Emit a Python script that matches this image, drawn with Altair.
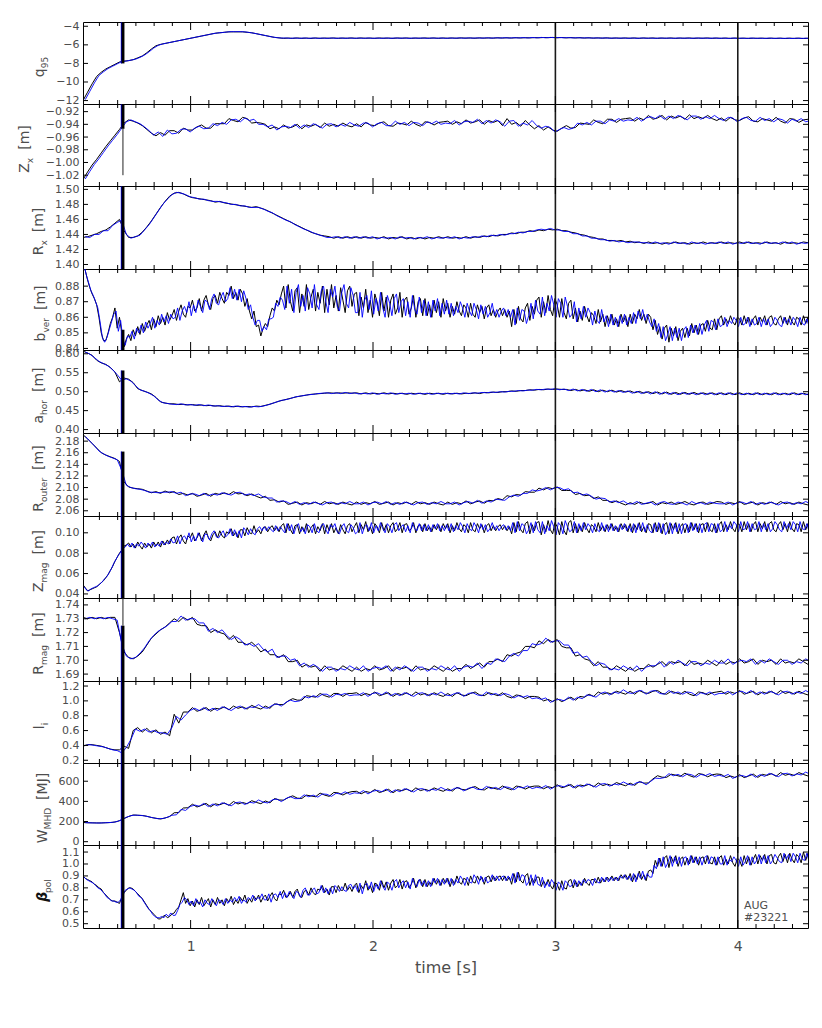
import altair as alt
import pandas as pd

# ---------------- time base ----------------
T0 = 0.41
DT_STD, DT_FINE = 0.025, 0.0125
X_DOMAIN = [0.41, 4.385]
EVENT_TIMES = [3.0, 4.0]
X_MAJOR = [1, 2, 3, 4]
X_MINOR = [round(0.5 + 0.1 * i, 1) for i in range(39) if abs((0.5 + 0.1 * i) - round(0.5 + 0.1 * i)) > 1e-6]
SPIKE_T_BLACK = 0.629
SPIKE_T_BLUE = 0.6205

# ---------------- series (black = one equilibrium, blue = other) ----------------
Q95_K = [-12.0,-11.1,-10.2,-9.4,-8.95,-8.6,-8.35,-8.1,-7.85,-7.75,-7.7,-7.6,-7.4,-7.2,-6.85,-6.45,-6.1,-5.95,-5.85,-5.75,
         -5.65,-5.55,-5.45,-5.35,-5.25,-5.15,-5.05,-4.95,-4.85,-4.75,-4.7,-4.65,-4.6,-4.6,-4.6,-4.6,-4.65,-4.7,-4.8,-4.9,
         -5.0,-5.1,-5.2,-5.25,-5.3,-5.27,-5.3,-5.26,-5.3,-5.27,-5.31,-5.26,-5.3,-5.27,-5.29,-5.26,-5.3,-5.27,-5.29,-5.26,
         -5.3,-5.26,-5.29,-5.27,-5.3,-5.26,-5.29,-5.27,-5.3,-5.26,-5.29,-5.26,-5.3,-5.27,-5.29,-5.26,-5.29,-5.26,-5.3,-5.26,
         -5.29,-5.26,-5.29,-5.25,-5.28,-5.26,-5.29,-5.25,-5.28,-5.25,-5.28,-5.24,-5.27,-5.24,-5.27,-5.23,-5.26,-5.23,-5.25,-5.22,
         -5.24,-5.21,-5.23,-5.2,-5.24,-5.21,-5.25,-5.22,-5.26,-5.23,-5.27,-5.24,-5.28,-5.25,-5.28,-5.25,-5.29,-5.26,-5.29,-5.26,
         -5.29,-5.26,-5.3,-5.26,-5.29,-5.26,-5.3,-5.27,-5.29,-5.26,-5.3,-5.27,-5.29,-5.26,-5.3,-5.27,-5.29,-5.26,-5.3,-5.27,
         -5.3,-5.27,-5.31,-5.27,-5.3,-5.28,-5.31,-5.28,-5.3,-5.28,-5.31,-5.28,-5.31,-5.28,-5.32,-5.28,-5.31,-5.28,-5.32,-5.29]
Q95_B = [-11.9,-11.0,-10.1,-9.3,-8.9,-8.55,-8.3,-8.05,-7.8,-7.75,-7.65,-7.55,-7.35,-7.1,-6.75,-6.35,-6.05,-5.9,-5.8,-5.7,
         -5.6,-5.5,-5.4,-5.3,-5.2,-5.1,-5.0,-4.9,-4.8,-4.72,-4.68,-4.62,-4.58,-4.58,-4.58,-4.6,-4.67,-4.75,-4.85,-4.95,
         -5.05,-5.15,-5.22,-5.27,-5.26,-5.3,-5.26,-5.3,-5.26,-5.3,-5.26,-5.3,-5.27,-5.3,-5.26,-5.3,-5.26,-5.3,-5.26,-5.3,
         -5.26,-5.3,-5.26,-5.3,-5.27,-5.3,-5.26,-5.3,-5.26,-5.29,-5.26,-5.3,-5.26,-5.29,-5.26,-5.3,-5.26,-5.29,-5.26,-5.3,
         -5.26,-5.29,-5.25,-5.29,-5.25,-5.28,-5.25,-5.28,-5.24,-5.28,-5.24,-5.27,-5.23,-5.27,-5.23,-5.26,-5.22,-5.26,-5.21,-5.25,
         -5.2,-5.24,-5.2,-5.23,-5.21,-5.24,-5.22,-5.25,-5.23,-5.26,-5.24,-5.27,-5.25,-5.28,-5.25,-5.29,-5.26,-5.29,-5.26,-5.3,
         -5.26,-5.3,-5.26,-5.29,-5.27,-5.3,-5.26,-5.29,-5.27,-5.3,-5.26,-5.29,-5.27,-5.3,-5.26,-5.29,-5.27,-5.3,-5.26,-5.3,
         -5.27,-5.31,-5.27,-5.3,-5.28,-5.31,-5.27,-5.3,-5.28,-5.31,-5.27,-5.31,-5.28,-5.31,-5.28,-5.32,-5.28,-5.31,-5.28,-5.32]

# Z_x in mm
ZX_K = [-1027,-1015,-1004,-995,-985,-975,-966,-957,-948,-938,-933,-935,-938,-942,-948,-954,-958,-953,-957,-950,
        -950,-954,-946,-949,-949,-944,-941,-946,-946,-939,-939,-939,-931,-934,-936,-929,-931,-938,-937,-938,
        -940,-947,-944,-947,-941,-946,-944,-940,-947,-941,-943,-940,-945,-938,-943,-940,-943,-938,-942,-944,
        -939,-944,-937,-941,-942,-938,-936,-942,-943,-938,-939,-941,-935,-940,-943,-936,-937,-941,-937,-936,
        -935,-940,-936,-939,-933,-938,-936,-933,-940,-934,-937,-934,-942,-931,-940,-937,-943,-934,-941,-947,
        -942,-949,-944,-949,-951,-946,-942,-946,-945,-938,-939,-940,-933,-937,-939,-932,-932,-937,-932,-931,
        -930,-935,-930,-933,-926,-932,-930,-926,-933,-927,-930,-927,-932,-925,-931,-928,-931,-926,-931,-934,
        -930,-935,-929,-933,-934,-930,-928,-935,-936,-931,-933,-935,-929,-935,-938,-931,-932,-937,-933,-932]
ZX_B = [-1026,-1014,-1003,-994,-984,-974,-965,-956,-946,-936,-933,-936,-939,-944,-950,-957,-952,-959,-949,-955,
        -954,-948,-947,-952,-946,-943,-947,-946,-939,-942,-937,-940,-933,-932,-936,-930,-934,-932,-940,-940,
        -944,-941,-949,-944,-943,-945,-940,-946,-941,-945,-939,-942,-946,-940,-939,-944,-940,-943,-937,-941,
        -943,-938,-938,-944,-939,-937,-942,-942,-935,-940,-937,-942,-937,-938,-942,-936,-939,-935,-940,-938,
        -939,-934,-941,-936,-935,-937,-932,-939,-934,-938,-933,-936,-943,-935,-934,-943,-938,-941,-934,-942,
        -946,-943,-945,-952,-948,-945,-948,-946,-938,-941,-937,-941,-935,-935,-939,-933,-935,-931,-935,-933,
        -934,-929,-935,-930,-928,-931,-926,-932,-927,-931,-926,-929,-933,-927,-927,-932,-928,-931,-926,-931,
        -934,-929,-930,-936,-931,-929,-934,-935,-929,-934,-931,-936,-931,-933,-938,-932,-935,-931,-936,-934]

# R_x in mm
RX_K = [1436,1437,1439,1441,1444,1446,1450,1455,1460,1445,1436,1436,1438,1443,1450,1458,1467,1476,1484,1491,
        1495,1496,1494,1491,1489,1488,1487,1486,1485,1483,1484,1482,1481,1480,1479,1478,1477,1476,1477,1475,
        1473,1470,1467,1464,1461,1458,1455,1452,1449,1446,1443,1441,1439,1438,1437,1435,1437,1435,1437,1435,
        1437,1435,1437,1435,1436,1435,1437,1434,1436,1435,1437,1434,1436,1434,1436,1434,1436,1435,1437,1435,
        1437,1435,1436,1435,1437,1435,1437,1436,1438,1437,1439,1438,1440,1440,1442,1441,1443,1443,1445,1444,
        1446,1445,1447,1446,1447,1445,1445,1443,1442,1440,1439,1437,1436,1434,1434,1432,1432,1431,1432,1430,
        1431,1429,1430,1428,1430,1428,1429,1427,1429,1428,1430,1428,1429,1427,1429,1428,1430,1428,1429,1428,
        1430,1428,1429,1428,1430,1428,1430,1428,1429,1428,1430,1428,1429,1427,1430,1428,1429,1428,1430,1429]
RX_B = [1437,1436,1440,1440,1445,1445,1452,1456,1459,1440,1435,1437,1439,1446,1453,1462,1471,1480,1487,1493,
        1496,1495,1493,1490,1489,1487,1487,1485,1484,1484,1483,1482,1480,1480,1478,1478,1476,1476,1476,1474,
        1471,1469,1465,1462,1459,1457,1453,1450,1447,1445,1442,1440,1438,1436,1436,1437,1435,1437,1435,1437,
        1435,1437,1435,1437,1434,1436,1435,1436,1434,1437,1435,1436,1434,1436,1435,1437,1434,1436,1435,1436,
        1435,1437,1434,1436,1435,1437,1436,1438,1437,1439,1438,1440,1439,1441,1441,1443,1442,1444,1444,1446,
        1447,1446,1448,1446,1446,1444,1444,1441,1441,1438,1438,1435,1435,1433,1433,1431,1432,1430,1431,1429,
        1430,1430,1429,1429,1428,1430,1428,1429,1427,1430,1428,1429,1427,1430,1428,1429,1427,1429,1428,1430,
        1428,1430,1427,1429,1428,1430,1428,1429,1427,1430,1428,1429,1428,1430,1428,1430,1427,1429,1428,1430]

# b_ver in mm (fine sampling, 0.0125 s)
BV_K = [895,890,884,879,875,872,868,860,850,845,845,850,856,860,866,853,860,850,841,846,849,845,852,848,854,849,856,851,855,858,852,859,854,861,856,860,855,863,858,861,
        865,858,864,868,862,860,867,866,871,864,866,872,864,871,874,868,865,872,874,869,876,872,869,876,874,880,872,876,871,878,875,867,872,864,859,864,854,855,848,853,
        856,854,861,866,864,871,868,875,880,866,881,870,864,877,879,863,875,867,881,865,873,878,864,876,869,880,863,878,868,881,866,874,864,879,871,863,877,880,867,875,
        876,861,873,866,878,863,871,860,875,870,861,876,864,873,860,871,875,862,866,876,860,871,873,862,866,874,860,870,872,861,872,861,868,860,871,863,870,860,872,864,
        869,860,867,862,870,864,861,868,866,860,869,862,860,868,863,867,859,866,868,861,865,860,864,866,861,865,860,864,854,865,856,867,859,857,866,869,858,867,862,871,
        873,860,870,863,874,865,861,872,868,860,872,863,859,869,871,859,866,857,864,858,867,861,857,863,861,856,865,857,862,854,861,856,862,855,859,854,862,857,861,854,
        862,856,862,859,865,858,862,856,862,860,852,858,849,854,846,853,855,844,853,848,854,845,851,853,847,853,848,856,850,855,849,855,856,851,858,853,852,859,852,859,
        861,855,859,856,861,857,855,860,859,855,861,856,860,855,859,861,855,860,857,861,855,860,861,856,855,859,861,856,860,855,861,857,855,860,859,855,861,856,860,855]
BV_B = [893,887,882,877,874,870,866,857,847,844,847,852,857,862,864,851,858,846,842,848,847,851,846,853,850,855,850,857,853,856,860,853,858,855,862,857,861,856,862,859,
        860,866,858,864,867,863,870,861,868,863,871,867,863,871,870,865,872,875,869,868,873,876,870,872,879,872,878,871,878,870,877,872,865,868,860,855,858,858,851,854,
        852,859,859,860,869,867,873,871,865,880,869,878,863,876,881,867,874,864,879,875,866,881,868,865,877,880,870,863,878,873,880,867,864,876,881,869,866,879,874,863,
        863,876,860,871,874,865,877,862,872,864,876,866,860,874,869,861,872,875,863,870,872,861,870,860,874,865,862,873,863,871,861,870,860,871,864,872,861,869,862,871,
        862,869,861,867,863,870,866,860,869,864,861,869,865,859,868,862,867,860,863,869,861,865,860,864,866,861,865,860,865,855,866,858,865,864,856,861,869,859,871,864,
        862,873,861,869,864,874,868,860,872,869,860,873,867,860,862,870,857,866,859,867,860,866,863,855,864,858,856,865,857,861,854,862,855,860,854,861,856,862,855,860,
        856,863,856,864,859,865,858,862,857,854,859,851,856,847,854,845,849,854,845,853,847,853,845,852,854,847,855,850,855,849,856,849,855,858,851,858,857,852,859,854,
        855,860,854,858,856,860,858,854,860,855,856,860,854,859,855,856,860,854,859,855,859,854,856,860,858,855,854,860,856,859,855,860,858,854,860,856,855,859,854,860]

# a_hor in mm
AH_K = [607,602,596,583,576,572,564,552,526,536,533,524,508,503,499,494,485,473,470,468,
        468,466,467,465,466,464,465,463,464,462,463,461,462,460,462,460,461,460,462,461,
        464,467,471,475,478,481,484,487,489,491,493,494,495,496,497,496,497,496,497,496,
        497,494,497,494,496,494,497,494,496,494,496,493,496,494,496,493,496,494,496,493,
        496,494,496,494,496,495,497,495,498,497,499,498,500,500,502,501,503,503,505,504,
        506,505,507,506,507,506,506,503,506,502,505,501,505,500,504,500,504,499,503,499,
        502,497,501,496,500,495,499,494,499,493,498,493,498,493,498,493,497,493,497,492,
        497,492,497,492,497,492,496,492,497,492,496,492,497,492,496,492,497,492,496,492]
AH_B = [605,599,590,580,574,568,558,545,530,534,528,516,505,501,496,489,478,471,469,467,
        466,468,465,466,464,466,463,465,462,463,461,462,460,462,460,461,459,461,460,462,
        465,469,473,477,479,482,486,488,490,492,493,495,496,497,495,497,495,498,495,497,
        494,496,494,497,493,496,494,497,493,496,494,496,493,496,494,496,493,496,494,496,
        494,496,494,497,495,497,496,498,497,499,498,500,499,501,501,503,502,504,504,506,
        505,507,506,508,505,507,503,507,502,506,501,506,500,505,499,504,499,503,498,502,
        496,501,495,500,494,500,493,499,493,498,492,498,493,497,492,497,492,497,492,497,
        492,497,492,497,492,496,492,497,492,496,492,497,492,496,492,497,492,496,492,496]

# R_outer in mm
RO_K = [2191,2184,2176,2168,2160,2156,2153,2150,2145,2110,2101,2099,2098,2097,2094,2091,2093,2090,2094,2091,
        2093,2088,2090,2087,2090,2085,2087,2090,2085,2090,2088,2091,2088,2093,2089,2090,2086,2089,2085,2082,
        2085,2078,2079,2075,2077,2071,2073,2075,2070,2074,2072,2075,2071,2076,2072,2074,2071,2075,2072,2070,
        2075,2071,2074,2072,2076,2071,2073,2075,2070,2074,2072,2075,2071,2076,2072,2074,2071,2075,2072,2070,
        2075,2071,2074,2072,2077,2072,2075,2077,2073,2078,2077,2081,2079,2086,2084,2088,2087,2093,2092,2092,
        2099,2096,2100,2098,2101,2095,2095,2095,2088,2090,2086,2087,2081,2084,2078,2078,2074,2077,2073,2070,
        2074,2071,2075,2072,2073,2076,2070,2074,2072,2075,2071,2073,2076,2072,2070,2074,2075,2071,2073,2076,
        2075,2071,2074,2072,2076,2071,2073,2075,2070,2074,2072,2075,2071,2076,2072,2074,2071,2075,2072,2070]
RO_B = [2188,2180,2172,2163,2158,2154,2151,2148,2130,2104,2100,2098,2097,2095,2092,2092,2091,2092,2092,2093,
        2090,2092,2086,2089,2089,2086,2090,2086,2089,2087,2091,2089,2087,2091,2092,2087,2089,2086,2089,2084,
        2082,2082,2075,2077,2076,2072,2076,2071,2074,2071,2075,2073,2070,2074,2075,2071,2074,2072,2076,2072,
        2072,2075,2070,2074,2075,2072,2076,2071,2074,2071,2075,2073,2070,2074,2075,2071,2074,2072,2076,2072,
        2072,2075,2070,2074,2076,2073,2078,2073,2077,2075,2080,2079,2078,2084,2087,2085,2090,2090,2096,2094,
        2096,2100,2096,2100,2100,2096,2098,2091,2092,2087,2089,2085,2080,2082,2081,2075,2077,2074,2077,2072,
        2072,2076,2071,2073,2075,2070,2074,2076,2072,2071,2075,2073,2070,2076,2072,2074,2071,2075,2073,2072,
        2072,2075,2070,2074,2075,2072,2076,2071,2074,2071,2075,2073,2070,2074,2075,2071,2074,2072,2076,2072]

# Z_mag in mm (fine sampling, 0.0125 s)
ZM_K = [49,46,43,44,45,46,47,49,51,53,56,59,63,67,72,76,80,83,87,88,90,86,89,85,91,87,84,90,86,89,85,91,87,91,86,92,88,93,89,95,
        96,89,95,98,92,89,97,95,100,92,95,100,92,98,102,95,92,98,101,95,102,97,95,101,99,104,97,101,95,103,103,97,105,100,99,107,100,103,99,105,
        106,101,105,107,102,106,101,107,109,100,109,103,99,107,108,99,106,101,109,100,105,108,99,106,102,109,99,108,102,109,100,105,99,108,103,99,107,109,101,106,
        110,100,108,103,111,101,106,99,109,106,100,110,102,108,100,107,110,101,104,110,100,108,109,102,104,110,100,107,108,101,109,102,106,101,108,103,108,101,109,104,
        109,100,107,102,110,104,101,108,106,100,110,103,101,109,104,108,100,107,109,102,107,102,106,108,103,107,102,106,99,110,101,111,103,100,109,111,99,108,102,110,
        111,98,108,101,112,103,99,110,106,98,111,102,98,110,112,100,109,100,107,101,110,104,100,108,106,101,110,102,107,101,108,103,109,102,106,101,109,104,108,101,
        109,100,108,103,110,101,106,100,109,108,100,110,101,109,99,108,110,99,109,103,110,99,106,109,100,108,101,110,103,109,100,108,109,101,110,103,101,109,100,108,
        111,101,108,103,111,104,101,109,108,101,111,103,109,101,108,111,101,109,104,111,101,109,111,103,101,108,111,103,109,101,111,104,101,109,108,101,111,103,109,101]
ZM_B = [47,44,43,45,46,47,48,50,52,55,57,61,65,70,74,78,81,85,86,89,86,90,85,89,87,91,88,85,90,87,91,86,89,87,92,88,91,89,94,90,
        91,97,89,95,97,93,100,91,97,92,100,96,91,99,98,93,99,102,96,95,99,102,96,98,104,97,103,96,102,95,105,102,98,104,100,98,104,106,102,106,
        102,106,103,101,107,102,106,103,100,109,102,108,99,106,109,101,105,99,108,106,100,109,102,100,107,109,103,99,108,105,109,101,99,106,109,102,100,108,105,99,
        101,110,99,106,108,102,110,100,107,102,110,104,100,109,106,100,108,110,102,106,108,101,107,100,110,104,102,109,102,108,102,108,101,108,104,109,102,107,102,108,
        102,109,101,107,103,110,106,100,109,104,102,110,106,100,109,103,108,101,104,110,103,107,102,106,108,103,107,102,110,100,111,102,109,107,99,103,110,100,111,103,
        100,111,99,107,102,112,106,98,110,107,99,112,106,101,103,111,100,109,102,110,103,109,106,100,109,103,101,110,102,108,101,109,102,107,101,108,103,109,102,107,
        101,109,100,109,102,110,101,108,102,100,109,101,110,100,109,98,102,110,99,109,101,109,99,108,109,100,110,102,109,101,109,100,108,110,101,109,108,100,109,101,
        103,111,101,108,104,111,108,101,111,103,104,111,101,109,103,104,111,101,109,103,109,101,104,111,108,103,101,111,104,109,103,111,108,101,111,104,103,109,101,111]

# R_mag in mm
RM_K = [1731,1730,1731,1730,1731,1730,1731,1731,1720,1706,1702,1701,1703,1706,1711,1716,1719,1722,1724,1727,
        1730,1728,1731,1729,1731,1726,1725,1725,1720,1722,1720,1719,1715,1718,1713,1713,1711,1713,1710,1706,
        1708,1704,1704,1702,1704,1699,1699,1700,1695,1697,1695,1696,1692,1696,1693,1694,1693,1696,1694,1692,
        1695,1692,1694,1693,1696,1693,1694,1696,1692,1695,1694,1695,1692,1696,1693,1694,1693,1696,1694,1692,
        1695,1692,1694,1694,1697,1694,1696,1698,1695,1699,1699,1701,1699,1704,1703,1705,1706,1710,1710,1709,
        1714,1712,1715,1713,1715,1710,1709,1709,1703,1704,1701,1700,1696,1699,1695,1695,1693,1696,1694,1692,
        1695,1692,1694,1694,1697,1695,1697,1699,1696,1699,1698,1699,1696,1700,1697,1698,1697,1700,1698,1696,
        1700,1697,1699,1698,1701,1698,1699,1701,1697,1700,1699,1700,1697,1701,1698,1699,1698,1701,1699,1697]
RM_B = [1730,1731,1730,1731,1730,1731,1730,1729,1712,1703,1701,1702,1705,1709,1714,1718,1721,1723,1725,1728,
        1728,1732,1729,1730,1730,1727,1727,1721,1723,1720,1722,1718,1715,1717,1715,1711,1712,1710,1712,1708,
        1706,1708,1702,1703,1703,1700,1701,1696,1698,1695,1697,1695,1692,1695,1695,1692,1694,1693,1696,1694,
        1693,1696,1692,1694,1695,1694,1696,1692,1695,1693,1696,1694,1692,1695,1695,1692,1694,1693,1696,1694,
        1693,1696,1692,1695,1696,1695,1698,1694,1698,1697,1701,1700,1699,1703,1705,1703,1707,1707,1712,1711,
        1712,1716,1713,1714,1714,1711,1711,1705,1706,1702,1703,1699,1696,1698,1697,1693,1694,1693,1696,1694,
        1693,1696,1692,1695,1696,1696,1699,1695,1699,1697,1700,1698,1696,1699,1699,1696,1698,1697,1700,1698,
        1698,1701,1697,1699,1700,1699,1701,1697,1700,1698,1701,1699,1697,1700,1700,1697,1699,1698,1701,1699]

# l_i in units of 0.01
LI_K = [39,41,41,40,39,37,35,34,34,39,36,60,64,58,63,57,61,55,58,53,
        82,70,85,85,91,86,88,91,86,90,89,92,88,93,90,92,89,94,91,89,
        93,90,96,95,95,100,103,101,101,107,106,105,110,107,105,110,110,106,110,110,
        111,107,110,108,112,107,109,111,106,110,108,111,107,112,108,110,107,111,108,106,
        110,106,111,108,107,110,112,108,107,111,109,107,111,106,104,108,107,103,106,106,
        105,100,102,99,103,99,102,105,101,106,105,109,106,112,109,111,109,113,111,109,
        113,109,114,111,110,113,114,110,109,113,111,109,113,109,107,112,111,108,111,112,
        113,109,112,110,114,109,111,113,108,112,110,113,109,114,110,112,109,113,110,108]
LI_B = [40,41,40,39,38,36,34,33,30,37,48,62,59,62,58,60,57,57,55,64,
        79,74,81,87,90,87,91,87,90,87,92,90,87,91,93,89,92,91,95,91,
        90,94,96,93,98,101,99,100,106,104,107,105,109,109,105,109,108,110,107,108,
        108,111,106,110,111,108,112,107,110,107,111,109,106,110,111,107,110,108,112,108,
        107,110,111,106,110,111,108,107,112,108,110,107,110,108,104,107,105,107,103,104,
        102,104,98,101,102,100,105,101,105,103,108,107,105,110,112,108,112,110,115,111,
        110,113,114,109,113,114,110,109,114,110,112,109,112,111,107,111,109,112,108,110,
        110,113,108,112,113,110,114,109,112,109,113,111,108,112,113,109,112,110,114,110]

# W_MHD
WM_K = [190,188,187,186,186,188,190,195,208,230,250,265,262,260,252,240,232,225,235,250,
        287,289,334,337,372,344,360,380,346,376,366,385,360,399,374,389,376,407,390,377,
        404,386,428,414,412,438,455,432,429,462,454,446,482,462,450,489,484,463,486,497,
        500,475,498,488,518,488,502,520,486,516,506,524,497,534,507,520,505,534,515,500,
        525,502,539,520,513,534,547,520,513,542,531,520,553,530,515,552,545,522,543,552,
        552,525,546,535,565,535,549,567,533,563,553,571,545,583,557,571,557,587,569,555,
        581,559,597,581,583,623,655,640,639,670,660,648,680,656,640,676,668,644,664,672,
        667,636,652,637,665,636,652,671,638,668,658,676,649,686,659,672,657,686,667,652]
WM_B = [189,187,186,185,187,189,192,200,218,242,258,264,261,256,246,236,228,230,242,262,
        267,321,310,349,364,352,380,348,374,356,386,373,356,387,394,369,392,383,414,393,
        384,414,424,398,428,446,427,428,465,446,462,442,474,470,450,481,472,495,470,485,
        480,507,474,500,510,496,522,488,514,496,526,512,493,522,527,500,521,510,539,516,
        505,530,535,504,529,542,519,516,549,526,539,516,545,538,515,544,533,554,527,540,
        532,557,522,547,557,543,569,535,561,543,573,559,541,571,577,551,573,563,593,571,
        561,587,593,565,599,631,627,636,675,654,668,644,672,664,640,668,656,676,648,660,
        647,668,628,649,657,644,672,639,666,648,678,664,645,674,679,652,673,662,691,668]

# beta_pol in units of 0.01 (fine sampling, 0.0125 s)
BP_K = [90,88,87,86,85,83,82,80,79,76,74,72,70,69,69,68,67,72,76,78,80,80,79,77,75,73,71,68,65,62,60,58,56,54,54,56,57,55,56,58,
        59,62,64,70,76,67,71,65,69,64,70,66,72,65,68,71,64,70,66,72,67,70,65,71,68,73,66,70,67,72,69,74,67,71,68,73,70,74,68,72,
        74,69,73,76,71,69,75,74,78,72,73,77,72,77,79,73,72,77,78,74,80,76,74,79,78,82,76,79,74,81,81,76,82,78,78,84,78,81,77,82,
        84,76,82,79,86,78,82,76,84,83,78,86,80,85,78,84,87,80,82,87,79,85,86,80,83,88,80,86,87,81,87,81,85,82,88,83,87,82,88,84,
        88,81,87,83,90,85,83,88,87,82,90,85,84,90,86,89,83,89,90,85,90,86,89,90,86,90,86,89,83,92,85,93,86,84,90,92,82,88,84,89,
        89,81,86,82,87,82,79,85,83,78,86,80,79,86,87,80,86,81,85,82,88,84,82,87,87,84,89,84,88,85,89,86,90,86,89,86,91,88,91,87,
        92,85,91,87,94,87,91,86,94,95,92,103,98,105,98,105,107,97,106,101,107,98,104,106,99,105,100,107,101,106,99,105,106,100,107,101,100,106,99,105,
        107,99,104,100,107,101,98,105,103,98,107,100,106,99,104,108,100,107,103,108,100,107,108,101,100,106,109,102,108,101,109,104,101,108,106,101,110,103,109,102]
BP_B = [89,87,86,85,84,82,80,79,77,75,72,71,69,69,68,68,70,74,78,79,80,79,78,76,73,72,69,66,63,61,58,56,55,55,56,55,58,56,59,57,
        57,61,66,68,72,70,66,69,65,71,67,68,64,70,67,66,71,68,65,70,69,66,71,67,70,68,72,69,73,67,70,68,72,70,74,69,72,71,75,70,
        70,75,68,74,75,72,77,71,76,72,77,74,71,77,76,72,78,80,74,74,78,80,75,76,82,76,80,75,80,75,82,80,77,81,78,77,82,83,79,82,
        77,84,75,82,84,79,85,77,83,79,86,81,78,85,83,78,85,87,80,84,86,80,85,79,88,83,81,87,82,86,81,86,81,88,84,88,82,87,83,88,
        83,88,82,87,84,90,87,82,89,85,84,91,88,83,90,85,89,84,86,91,86,90,86,89,90,86,90,86,92,84,93,86,91,90,82,85,91,82,91,83,
        82,89,80,85,81,87,84,78,85,83,78,86,84,81,82,87,81,86,82,87,84,87,86,82,88,85,84,89,85,89,85,89,86,89,86,90,88,91,87,90,
        86,92,85,92,88,94,87,92,89,89,99,96,105,98,106,97,101,107,98,106,100,106,98,105,106,99,107,101,106,100,106,99,105,107,100,106,105,99,106,100,
        100,107,99,104,102,106,103,98,106,99,102,107,99,106,100,103,108,100,107,101,107,100,103,108,105,102,101,109,104,108,102,109,106,101,109,104,103,109,102,110]

# ---------------- panel definitions ----------------
PANELS = [
    dict(k=Q95_K, b=Q95_B, unit=1.0, dt=DT_STD, dom=[-12.37, -3.54], ticks=[-4, -6, -8, -10, -12], fmt=".0f",
         title=[("q", 14, 0, 0), ("95", 9, 4, 0)], tx=-39, spike=(-8.0, -3.0), thin=None),
    dict(k=ZX_K, b=ZX_B, unit=0.001, dt=DT_STD, dom=[-1.037, -0.908], ticks=[-0.92, -0.94, -0.96, -0.98, -1.00, -1.02], fmt=".2f",
         title=[("Z", 14, 0, 0), ("x", 9, 4, 0), ("[m]", 14, 0, 8)], tx=-54, spike=(-0.947, -0.90), thin=(-1.02, -0.947)),
    dict(k=RX_K, b=RX_B, unit=0.001, dt=DT_STD, dom=[1.394, 1.5045], ticks=[1.40, 1.42, 1.44, 1.46, 1.48, 1.50], fmt=".2f",
         title=[("R", 14, 0, 0), ("x", 9, 4, 0), ("[m]", 14, 0, 8)], tx=-40, spike=(1.39, 1.51), thin=None),
    dict(k=BV_K, b=BV_B, unit=0.001, dt=DT_FINE, dom=[0.839, 0.891], ticks=[0.84, 0.85, 0.86, 0.87, 0.88], fmt=".2f",
         title=[("b", 14, 0, 0), ("ver", 9, 4, 0), ("[m]", 14, 0, 8)], tx=-38, spike=(0.835, 0.852), thin=None),
    dict(k=AH_K, b=AH_B, unit=0.001, dt=DT_STD, dom=[0.391, 0.61], ticks=[0.40, 0.45, 0.50, 0.55, 0.60], fmt=".2f",
         title=[("a", 14, 0, 0), ("hor", 9, 4, 0), ("[m]", 14, 0, 8)], tx=-40, spike=(0.385, 0.556), thin=None),
    dict(k=RO_K, b=RO_B, unit=0.001, dt=DT_STD, dom=[2.051, 2.194], ticks=[2.06, 2.08, 2.10, 2.12, 2.14, 2.16, 2.18], fmt=".2f",
         title=[("R", 14, 0, 0), ("outer", 9, 4, 0), ("[m]", 14, 0, 8)], tx=-40, spike=(2.045, 2.162), thin=None),
    dict(k=ZM_K, b=ZM_B, unit=0.001, dt=DT_FINE, dom=[0.036, 0.1165], ticks=[0.04, 0.06, 0.08, 0.10], fmt=".2f",
         title=[("Z", 14, 0, 0), ("mag", 9, 4, 0), ("[m]", 14, 0, 8)], tx=-40, spike=(0.03, 0.12), thin=None),
    dict(k=RM_K, b=RM_B, unit=0.001, dt=DT_STD, dom=[1.685, 1.745], ticks=[1.69, 1.70, 1.71, 1.72, 1.73, 1.74], fmt=".2f",
         title=[("R", 14, 0, 0), ("mag", 9, 4, 0), ("[m]", 14, 0, 8)], tx=-40, spike=(1.68, 1.725), thin=(1.725, 1.75)),
    dict(k=LI_K, b=LI_B, unit=0.01, dt=DT_STD, dom=[0.163, 1.268], ticks=[0.2, 0.4, 0.6, 0.8, 1.0, 1.2], fmt=".1f",
         title=[("l", 14, 0, 0), ("i", 9, 4, 0)], tx=-39, spike=(0.1, 1.3), thin=None),
    dict(k=WM_K, b=WM_B, unit=1.0, dt=DT_STD, dom=[-33, 781], ticks=[0, 200, 400, 600], fmt=".0f",
         title=[("W", 14, 0, 0), ("MHD", 9, 4, 0), ("[MJ]", 14, 0, 8)], tx=-36, spike=(-50, 800), thin=None),
    dict(k=BP_K, b=BP_B, unit=0.01, dt=DT_FINE, dom=[0.464, 1.159], ticks=[0.5, 0.6, 0.7, 0.8, 0.9, 1.0, 1.1], fmt=".1f",
         title=[("β", 14, 0, 0), ("pol", 9, 4, 0)], tx=-36, spike=(0.4, 1.2), thin=None),
]
HEIGHTS = [82, 82, 83, 81, 83, 83, 82, 83, 82, 82, 83]

# ---------------- style ----------------
FONT = "DejaVu Sans"
GREY = "#4d4d4d"
BLUE = "#0000ff"
W = 725
EM = {"q": .635, "9": .636, "5": .636, "Z": .685, "x": .592, "[": .39, "m": .974, "]": .39, "R": .695,
      "b": .635, "v": .592, "e": .615, "r": .411, "a": .613, "h": .634, "o": .612, "u": .634, "t": .392,
      "g": .635, "l": .278, "i": .278, "W": .989, "M": .863, "H": .752, "D": .77, "J": .295, "β": .64, "p": .635}
ONE = pd.DataFrame({"a": [0]})


def tw(txt, size):
    return sum(EM.get(c, 0.6) for c in txt) * size


def title_layers(pieces, x0, h):
    total = sum(g + tw(t, s) for t, s, p, g in pieces)
    y = h / 2 + total / 2 + 4
    out = []
    for t, s, p, g in pieces:
        y -= g
        kw = dict(text=t, angle=270, align="left", baseline="alphabetic", fontSize=s, font=FONT, color=GREY)
        if t == "β":
            kw.update(color="#111", fontStyle="italic", fontWeight="bold")
        out.append(alt.Chart(ONE).mark_text(**kw).encode(x=alt.value(x0 + p), y=alt.value(y)))
        y -= tw(t, s)
    return out


def make_panel(p, h, last):
    xs = alt.Scale(domain=X_DOMAIN, nice=False, zero=False)
    ys = alt.Scale(domain=p["dom"], nice=False, zero=False)
    if last:
        xaxis = alt.Axis(values=X_MAJOR, format="d", ticks=False, domain=False, grid=False,
                         labelFontSize=14, labelColor=GREY, labelFont=FONT, labelPadding=11,
                         title="time [s]", titleFontSize=16, titleFontWeight="normal", titleColor=GREY,
                         titleFont=FONT, titlePadding=6)
    else:
        xaxis = None
    yaxis = alt.Axis(values=p["ticks"], format=p["fmt"], ticks=False, domain=False, grid=False,
                     labelFontSize=11, labelColor=GREY, labelFont=FONT, labelPadding=4, title=None)
    X = alt.X("t:Q", scale=xs, axis=xaxis)
    Y = alt.Y("v:Q", scale=ys, axis=yaxis)

    dt = p["dt"]
    tk = [round(T0 + dt * i, 5) for i in range(len(p["k"]))]
    tb = [round(T0 + dt * i + dt / 2, 5) for i in range(len(p["b"]))]
    dk = pd.DataFrame({"t": tk, "v": [v * p["unit"] for v in p["k"]]})
    db = pd.DataFrame({"t": tb, "v": [v * p["unit"] for v in p["b"]]})
    layers = []
    layers.append(alt.Chart(dk).mark_line(color="#000", strokeWidth=1, clip=True).encode(x=X, y=Y))
    layers.append(alt.Chart(db).mark_line(color=BLUE, strokeWidth=1, clip=True, opacity=0.9).encode(x=X, y=Y))

    # spike bar near t=0.62
    lo, hi = p["spike"]
    spb = pd.DataFrame({"t": [SPIKE_T_BLUE], "v": [lo], "v2": [hi]})
    layers.append(alt.Chart(spb).mark_rule(color=BLUE, strokeWidth=1.2, clip=True).encode(x=X, y=Y, y2="v2:Q"))
    sp = pd.DataFrame({"t": [SPIKE_T_BLACK], "v": [lo], "v2": [hi]})
    layers.append(alt.Chart(sp).mark_rule(color="#000", strokeWidth=3, clip=True).encode(x=X, y=Y, y2="v2:Q"))
    if p["thin"]:
        tl, th = p["thin"]
        spt = pd.DataFrame({"t": [SPIKE_T_BLACK], "v": [tl], "v2": [th]})
        layers.append(alt.Chart(spt).mark_rule(color="#222", strokeWidth=1, clip=True).encode(x=X, y=Y, y2="v2:Q"))

    # event lines
    ev = pd.DataFrame({"t": EVENT_TIMES})
    layers.append(alt.Chart(ev).mark_rule(color="#1a1a1a", strokeWidth=1.6).encode(x=X))

    # inward ticks
    mn = pd.DataFrame({"t": X_MINOR})
    mj = pd.DataFrame({"t": X_MAJOR})
    for df, ln in ((mn, 4), (mj, 8)):
        layers.append(alt.Chart(df).mark_rule(color="#000", strokeWidth=1).encode(x=X, y=alt.value(0), y2=alt.value(ln)))
        layers.append(alt.Chart(df).mark_rule(color="#000", strokeWidth=1).encode(x=X, y=alt.value(h), y2=alt.value(h - ln)))
    yt = pd.DataFrame({"v": p["ticks"]})
    layers.append(alt.Chart(yt).mark_rule(color="#000", strokeWidth=1).encode(y=Y, x=alt.value(0), x2=alt.value(5)))
    layers.append(alt.Chart(yt).mark_rule(color="#000", strokeWidth=1).encode(y=Y, x=alt.value(W), x2=alt.value(W - 5)))

    layers += title_layers(p["title"], p["tx"], h)
    if last:
        layers.append(alt.Chart(ONE).mark_text(text="AUG", align="left", baseline="middle", fontSize=11,
                                               font=FONT, color=GREY).encode(x=alt.value(661), y=alt.value(61)))
        layers.append(alt.Chart(ONE).mark_text(text="#23221", align="left", baseline="middle", fontSize=11,
                                               font=FONT, color=GREY).encode(x=alt.value(661), y=alt.value(73)))
    return alt.layer(*layers).properties(width=W, height=h)


charts = [make_panel(p, HEIGHTS[i], i == len(PANELS) - 1) for i, p in enumerate(PANELS)]
chart = alt.vconcat(*charts, spacing=0, bounds="flush").properties(
    padding={"left": 9, "top": 11, "right": 5, "bottom": 5}
).configure_view(stroke="#000", strokeWidth=1)

chart.save("out.html", embed_options={"renderer": "svg", "actions": False})
